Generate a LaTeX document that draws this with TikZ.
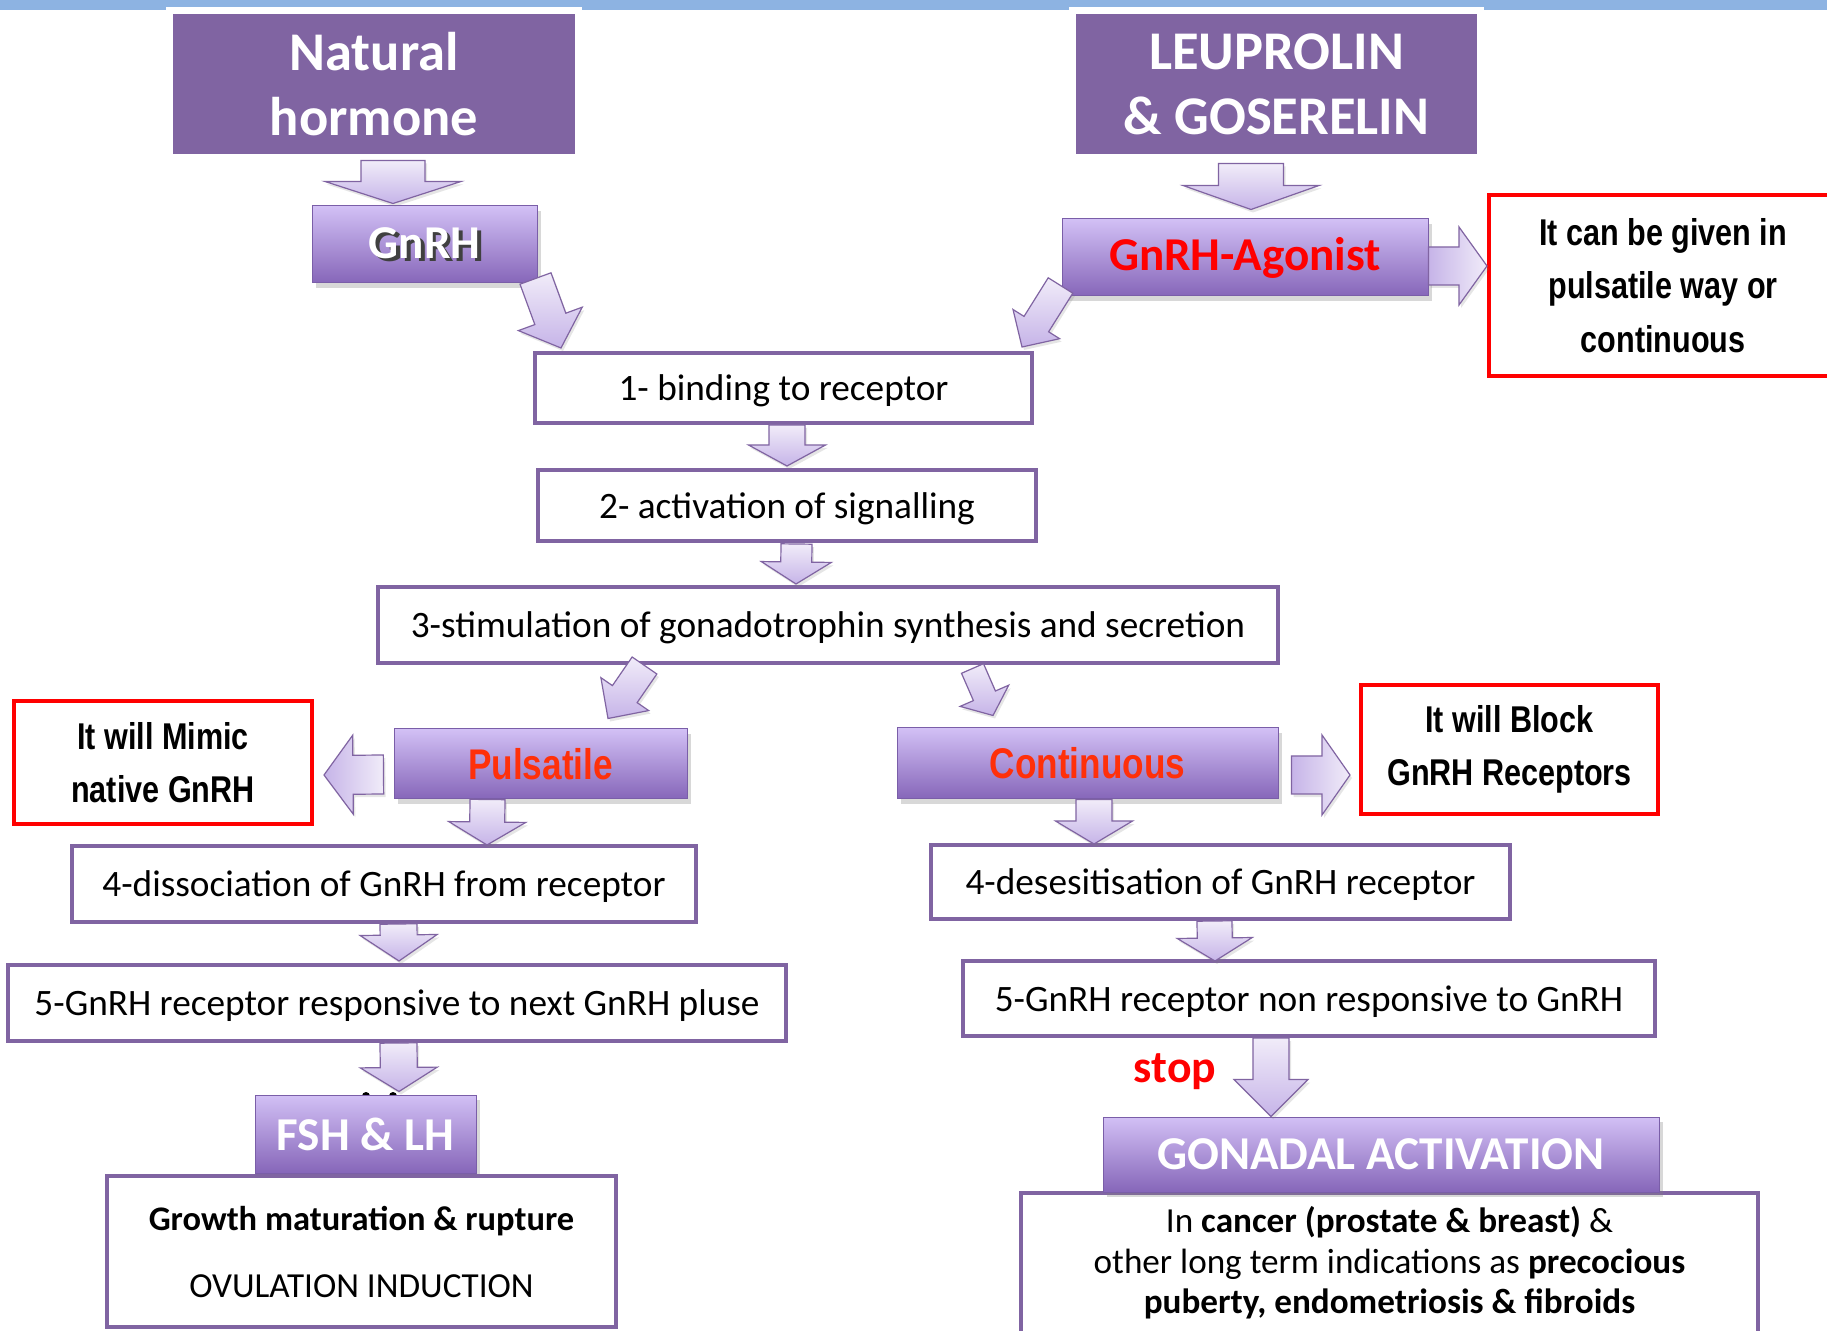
\documentclass[tikz,border=0pt]{standalone}
\usepackage{fontspec}
\setmainfont{Carlito}
\newfontfamily\narrowfont[FakeStretch=0.82]{Liberation Sans}
\usetikzlibrary{calc,shadows}

\definecolor{bandblue}{HTML}{8DB3E2}
\definecolor{titlepurple}{HTML}{8064A2}
\definecolor{boxline}{HTML}{8064A2}
\definecolor{notered}{HTML}{FF0000}
\definecolor{modered}{RGB}{255,48,10}
\definecolor{bevtop}{HTML}{D2C0F5}
\definecolor{bevmid}{HTML}{AA8DDD}
\definecolor{bevbot}{HTML}{8666B9}
\definecolor{bevline}{HTML}{7A5EA8}
\definecolor{arrtop}{HTML}{F1ECF9}
\definecolor{arrbot}{HTML}{C6B4E8}

\newcommand\shtxt[1]{\makebox[0pt][l]{\hspace{0.035cm}\raisebox{-0.035cm}{\textcolor{black!75}{#1}}}#1}

\newcommand\blockarrow[6][]{%
  \path #2 coordinate (ba-t) #3 coordinate (ba-p);
  \path ($(ba-p)!#6*0.01cm!(ba-t)$) coordinate (ba-m);
  \path[barrow,#1] ($(ba-t)!#4*0.01cm!90:(ba-p)$) -- ($(ba-m)!#4*0.01cm!90:(ba-p)$)
    -- ($(ba-m)!#5*0.01cm!90:(ba-p)$) -- (ba-p) -- ($(ba-m)!#5*0.01cm!-90:(ba-p)$)
    -- ($(ba-m)!#4*0.01cm!-90:(ba-p)$) -- ($(ba-t)!#4*0.01cm!-90:(ba-p)$) -- cycle;}

\tikzset{
  wh/.style 2 args={minimum width=#1*0.01cm, minimum height=#2*0.01cm},
  title/.style={fill=titlepurple, draw=white, line width=0.07cm, text=white, align=center, inner sep=0pt,
    font=\fontsize{15.5}{18.5}\selectfont\bfseries,
    drop shadow={opacity=0.35, shadow xshift=0.01cm, shadow yshift=-0.015cm, shadow scale=1.012}},
  bevel/.style={draw=bevline, line width=0.01cm, top color=bevtop, middle color=bevmid, bottom color=bevbot,
    inner sep=0pt, font=\fontsize{13.4}{16}\selectfont\bfseries,
    drop shadow={opacity=0.3, shadow xshift=0.04cm, shadow yshift=-0.05cm}},
  narrowbevel/.style={font=\narrowfont\bfseries\fontsize{12.2}{14}\selectfont, text=modered},
  stepbox/.style={draw=boxline, line width=0.04cm, fill=white, align=center, inner sep=0pt,
    text depth=0pt, font=\fontsize{10.6}{13}\selectfont},
  notebox/.style={draw=notered, line width=0.04cm, fill=white, align=center, inner sep=0pt,
    font=\narrowfont\bfseries\fontsize{10.6}{15.2}\selectfont},
  barrow/.style={draw=boxline, line width=0.012cm, line join=miter, top color=arrtop, bottom color=arrbot,
    drop shadow={opacity=0.2, shadow xshift=0.02cm, shadow yshift=-0.03cm}},
  hshade/.style={left color=arrbot, right color=arrtop},
}

\begin{document}
\begin{tikzpicture}[x=0.01cm, y=-0.01cm]
\useasboundingbox (0,0) rectangle (1827,1331);
\clip (0,0) rectangle (1827,1331);
\fill[white] (0,0) rectangle (1827,1331);
\fill[bandblue] (0,0) rectangle (1827,10);
\fill[black] (366,1096) circle[radius=0.04cm] (393,1096) circle[radius=0.04cm];

\node[title, wh={409}{147}] (nat) at (374,84) {Natural\\hormone};
\node[title, wh={408}{147}] (leu) at (1276.5,84) {LEUPROLIN\\\& GOSERELIN};
\node[bevel, text=white, wh={225}{77}] (gnrh) at (424.5,244.5) {\shtxt{GnRH}};
\node[bevel, text=notered, wh={366}{77}] (agon) at (1245,257.5) {GnRH-Agonist};
\node[notebox, wh={348}{181}] (note1) at (1663,285.5) {It can be given in\\pulsatile way or\\continuous};
\node[stepbox, wh={497}{70}] (box1) at (783.5,388) {1- binding to receptor};
\node[stepbox, wh={498}{71}] (box2) at (787,505.5) {2- activation of signalling};
\node[stepbox, wh={900}{76}] (box3) at (828,625) {3-stimulation of gonadotrophin synthesis and secretion};
\node[notebox, wh={298}{123}] (note2) at (163,762.5) {It will Mimic\\native GnRH};
\node[bevel, narrowbevel, wh={293}{70}] (puls) at (540.5,764) {Pulsatile};
\node[bevel, narrowbevel, wh={381}{71}] (cont) at (1087.5,763.5) {Continuous};
\node[notebox, wh={297}{129}] (note3) at (1509.5,749.5) {It will Block\\GnRH Receptors};
\node[stepbox, wh={624}{76}] (box4l) at (384,884) {4-dissociation of GnRH from receptor};
\node[stepbox, wh={778}{76}] (box5l) at (397,1003) {5-GnRH receptor responsive to next GnRH pluse};
\node[bevel, text=white, wh={221}{78}] (fshlh) at (365.5,1134) {FSH \& LH};
\node[stepbox, wh={509}{151}] (effl) at (361.5,1251.5)
  {{\fontsize{9.8}{12}\selectfont\bfseries Growth maturation \& rupture}\\[6pt]{\fontsize{10}{12}\selectfont OVULATION INDUCTION}};
\node[stepbox, wh={579}{74}] (box4r) at (1220.5,882) {4-desesitisation of GnRH receptor};
\node[stepbox, wh={692}{75}] (box5r) at (1309,998.5) {5-GnRH receptor non responsive to GnRH};
\node[stepbox, wh={737}{146}, text depth=0.12cm, font=\fontsize{10}{11.5}\selectfont] (effr) at (1389.5,1266)
  {In \textbf{cancer (prostate \& breast)} \&\\other long term indications as \textbf{precocious}\\\textbf{puberty, endometriosis \& fibroids}};
\node[bevel, text=white, wh={556}{75}] (gonad) at (1381,1154.5) {GONADAL ACTIVATION};
\node[text=notered, inner sep=0pt, font=\fontsize{13}{15}\selectfont\bfseries] (stop) at (1175,1072) {stop};

\blockarrow{($(nat.south)+(19,-0.5)$)}{($(gnrh.north)+(-31.5,-2)$)}{32}{68}{22}
\blockarrow{($(leu.south)+(-25.5,2.5)$)}{($(agon.north)+(6,-9)$)}{32.5}{68}{24}
\blockarrow{($(gnrh.south east)+(-2,-5)$)}{($(box1.north west)+(28,-3)$)}{16.5}{34}{31}
\blockarrow{($(agon.south west)+(-1,-11)$)}{($(box1.north east)+(-12,-4)$)}{14.5}{27.5}{27}
\blockarrow[hshade]{($(agon.east)+(0,8.5)$)}{($(note1.west)+(0,-19.5)$)}{19}{39}{28}
\blockarrow{($(box1.south)+(3.5,0)$)}{($(box2.north)+(0,-2)$)}{18}{38.5}{21}
\blockarrow{($(box2.south)+(9.5,1)$)}{($(box3.north)+(-32,-1)$)}{15.5}{35}{22}
\blockarrow{($(box3.south)+(-183.5,0.5)$)}{($(puls.north)+(67.5,-10)$)}{15}{29}{29.6}
\blockarrow{($(box3.south)+(144.5,3.5)$)}{($(cont.north)+(-94.5,-12)$)}{12}{26.5}{21.5}
\blockarrow[hshade]{($(puls.west)+(-10,10.5)$)}{($(note2.east)+(10,12.5)$)}{19.5}{39.5}{29}
\blockarrow[hshade]{($(cont.east)+(13,11.5)$)}{($(note3.west)+(-9,25.5)$)}{19}{40}{28}
\blockarrow{($(puls.south)+(-53,0)$)}{($(box4l.north)+(103,1)$)}{17.5}{38.5}{23}
\blockarrow{($(box4l.south)+(14.5,0)$)}{($(box5l.north)+(2,-2)$)}{18.5}{38.5}{26}
\blockarrow{($(box5l.south)+(1.5,0)$)}{($(fshlh.north)+(33.5,-3)$)}{18.5}{38.5}{24}
\blockarrow{($(cont.south)+(6.5,0)$)}{($(box4r.north)+(-126.5,1)$)}{18}{38.5}{23}
\blockarrow{($(box4r.south)+(-6,0)$)}{($(box5r.north)+(-94,2)$)}{17.5}{37.5}{23}
\blockarrow{($(box5r.south)+(-38,0)$)}{($(gonad.north)+(-110,0)$)}{18}{37}{37}
\end{tikzpicture}
\end{document}
